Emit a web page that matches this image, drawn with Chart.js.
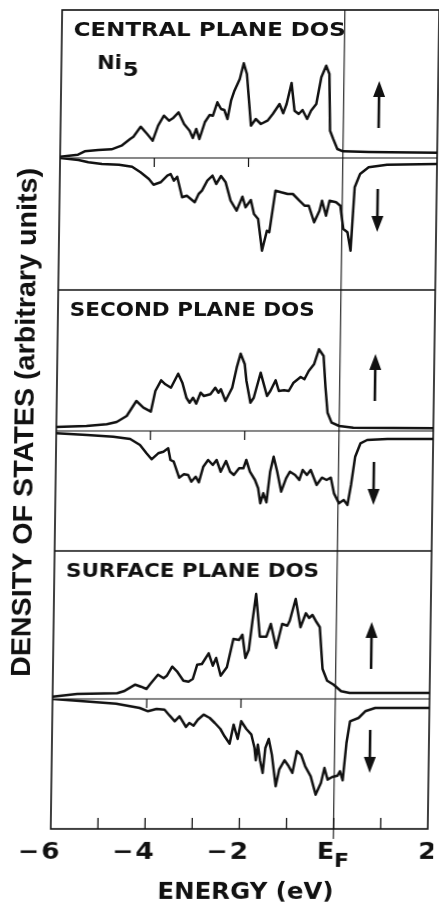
<!DOCTYPE html>
<html>
<head>
<meta charset="utf-8">
<script src="https://cdn.jsdelivr.net/npm/chart.js@4.4.1/dist/chart.umd.min.js"></script>
<style>
  html, body { margin: 0; padding: 0; background: #fff; overflow: hidden; }
  #wrap { width: 439px; height: 905px; }
  /* the scanned figure leans a little; follow it */
  canvas { display: block; transform: skewX(-0.8deg); }
</style>
</head>
<body>
<div id="wrap"><canvas id="dos" width="439" height="905"></canvas></div>
<script>
// Ni5 layer DOS, energy in eV from E_F, DOS in arbitrary units (down spin negative)
const centralUpE = [-6.0, -5.62, -5.48, -5.19, -4.91, -4.70, -4.52, -4.45, -4.30, -4.16, -4.04, -3.93, -3.81, -3.70, -3.62, -3.50, -3.38, -3.26, -3.19, -3.12, -3.05, -2.94, -2.84, -2.77, -2.68, -2.60, -2.53, -2.46, -2.39, -2.32, -2.21, -2.13, -2.06, -1.96, -1.86, -1.75, -1.61, -1.50, -1.36, -1.28, -1.21, -1.11, -1.04, -0.95, -0.87, -0.77, -0.69, -0.58, -0.48, -0.38, -0.31, -0.28, -0.21, -0.12, 0.0, 0.55, 1.0, 2.0];
const centralUpDos = [0.13, 0.33, 0.67, 0.80, 0.87, 1.23, 1.90, 2.13, 3.13, 2.40, 1.73, 3.23, 4.23, 3.73, 3.97, 4.57, 3.40, 2.73, 2.00, 2.90, 1.90, 3.57, 4.30, 4.23, 5.57, 4.90, 4.80, 3.90, 5.73, 6.73, 7.90, 9.47, 8.40, 3.23, 3.90, 3.40, 3.73, 4.40, 5.40, 4.47, 5.40, 7.50, 4.73, 4.40, 4.80, 3.90, 4.73, 5.40, 8.07, 9.23, 8.40, 2.73, 1.90, 0.90, 0.67, 0.60, 0.57, 0.53];

const centralDownE = [-6.0, -5.61, -5.40, -5.11, -4.75, -4.47, -4.29, -4.11, -4.01, -3.86, -3.72, -3.65, -3.58, -3.51, -3.40, -3.30, -3.13, -3.05, -2.98, -2.87, -2.76, -2.68, -2.58, -2.48, -2.37, -2.24, -2.12, -2.05, -1.94, -1.87, -1.78, -1.69, -1.59, -1.54, -1.42, -1.30, -1.16, -1.05, -0.91, -0.80, -0.71, -0.59, -0.48, -0.43, -0.34, -0.27, -0.13, -0.04, 0.03, 0.12, 0.19, 0.26, 0.37, 0.55, 0.94, 2.0];
const centralDownDos = [0, -0.20, -0.43, -0.60, -0.67, -0.87, -1.43, -2.10, -2.67, -2.43, -1.77, -1.60, -2.27, -1.87, -3.93, -3.77, -4.43, -3.60, -3.27, -2.27, -1.77, -2.60, -1.80, -2.43, -4.27, -5.27, -3.87, -4.93, -4.20, -5.60, -6.10, -9.27, -7.27, -7.43, -3.27, -3.43, -3.60, -3.60, -4.27, -4.77, -4.77, -6.43, -5.27, -4.27, -5.77, -4.27, -4.43, -4.77, -7.10, -7.43, -9.27, -2.93, -1.60, -0.93, -0.67, -0.60];

const secondUpE = [-6.0, -5.36, -4.93, -4.72, -4.51, -4.31, -4.16, -4.00, -3.91, -3.79, -3.70, -3.58, -3.43, -3.34, -3.25, -3.18, -3.11, -3.04, -2.95, -2.88, -2.74, -2.64, -2.57, -2.52, -2.42, -2.28, -2.19, -2.11, -2.02, -1.98, -1.89, -1.82, -1.68, -1.61, -1.54, -1.47, -1.36, -1.29, -1.18, -1.08, -0.98, -0.83, -0.75, -0.66, -0.55, -0.45, -0.35, -0.30, -0.25, -0.16, 0.0, 0.30, 2.0];
const secondUpDos = [0.40, 0.50, 0.67, 0.90, 1.50, 3.00, 2.33, 1.93, 4.00, 5.07, 4.67, 4.33, 5.73, 4.83, 3.33, 2.83, 3.33, 2.73, 3.83, 3.50, 3.67, 4.33, 3.83, 4.17, 3.00, 4.33, 6.33, 7.73, 6.67, 5.00, 2.83, 3.33, 5.83, 4.67, 3.50, 4.00, 5.07, 4.00, 4.07, 4.00, 4.83, 5.40, 5.17, 6.00, 6.67, 8.17, 7.50, 4.33, 1.83, 0.83, 0.50, 0.33, 0.27];

const secondDownE = [-6.0, -5.35, -4.79, -4.43, -4.22, -4.08, -3.97, -3.83, -3.72, -3.62, -3.57, -3.50, -3.38, -3.28, -3.19, -3.12, -3.03, -2.96, -2.87, -2.77, -2.67, -2.59, -2.50, -2.39, -2.30, -2.22, -2.11, -2.02, -1.96, -1.88, -1.77, -1.70, -1.65, -1.59, -1.52, -1.45, -1.38, -1.30, -1.21, -1.11, -1.03, -0.92, -0.83, -0.76, -0.67, -0.59, -0.46, -0.35, -0.25, -0.16, -0.09, 0.02, 0.12, 0.20, 0.27, 0.35, 0.46, 0.60, 1.03, 2.0];
const secondDownDos = [-0.23, -0.40, -0.57, -0.80, -1.40, -2.23, -2.83, -2.23, -2.07, -1.73, -2.90, -3.07, -4.67, -4.33, -4.40, -5.07, -4.57, -5.13, -3.57, -2.90, -3.40, -2.90, -4.07, -3.00, -4.07, -4.40, -3.73, -3.73, -2.90, -4.07, -4.90, -5.73, -7.23, -6.23, -7.13, -4.07, -2.57, -4.07, -6.07, -4.73, -4.07, -4.40, -4.90, -3.90, -4.40, -3.90, -5.40, -4.67, -4.90, -4.67, -6.23, -7.23, -6.90, -7.40, -5.40, -2.57, -1.23, -0.90, -0.80, -0.80];

const surfaceUpE = [-6.0, -5.48, -4.63, -4.49, -4.25, -4.13, -4.01, -3.93, -3.77, -3.65, -3.58, -3.47, -3.37, -3.23, -3.12, -3.03, -2.94, -2.84, -2.70, -2.61, -2.54, -2.44, -2.31, -2.18, -2.06, -1.99, -1.92, -1.85, -1.78, -1.71, -1.62, -1.48, -1.39, -1.27, -1.15, -1.04, -0.99, -0.87, -0.76, -0.65, -0.58, -0.51, -0.42, -0.35, -0.28, -0.18, -0.04, 0.12, 0.30, 2.0];
const surfaceUpDos = [0.23, 0.50, 0.57, 0.77, 1.43, 1.23, 1.00, 1.50, 2.43, 2.07, 2.33, 3.23, 2.77, 1.83, 1.73, 2.00, 3.43, 3.50, 4.57, 3.33, 4.10, 2.33, 3.17, 6.00, 5.90, 6.43, 4.10, 4.90, 7.83, 10.50, 6.23, 6.23, 7.50, 5.10, 7.50, 7.33, 7.83, 10.00, 7.17, 8.57, 8.10, 8.40, 7.67, 7.17, 3.00, 1.83, 1.43, 0.77, 0.60, 0.60];

const surfaceDownE = [-6.0, -5.35, -4.65, -4.15, -3.97, -3.79, -3.62, -3.51, -3.40, -3.30, -3.16, -3.09, -3.0, -2.91, -2.79, -2.66, -2.55, -2.43, -2.34, -2.23, -2.15, -2.06, -1.99, -1.88, -1.77, -1.70, -1.67, -1.63, -1.58, -1.52, -1.47, -1.40, -1.33, -1.24, -1.17, -1.06, -0.97, -0.89, -0.80, -0.71, -0.62, -0.50, -0.39, -0.28, -0.21, -0.14, -0.04, 0.07, 0.12, 0.18, 0.25, 0.32, 0.50, 0.64, 0.85, 2.0];
const surfaceDownDos = [0, -0.23, -0.47, -0.90, -1.23, -1.00, -1.07, -1.67, -2.23, -1.73, -2.80, -2.40, -2.67, -2.07, -1.57, -1.90, -2.40, -3.00, -3.73, -4.47, -2.57, -4.00, -2.23, -3.00, -3.57, -4.90, -6.13, -4.57, -6.13, -7.40, -4.90, -4.00, -5.57, -8.73, -7.07, -6.13, -6.73, -7.40, -5.23, -5.57, -6.73, -7.73, -9.57, -8.40, -6.90, -8.07, -7.80, -7.67, -7.23, -8.13, -4.40, -2.23, -1.90, -1.23, -0.90, -0.90];

const tickValues = [-6, -4, -2, 0, 2];
const tickLabels = ['\u22126', '\u22124', '\u22122', 'E_F', '2'];
const minorTicks = [-5, -4, -3, -2, -1, 0, 1];
const panelTitles = ['CENTRAL PLANE DOS', 'SECOND PLANE DOS', 'SURFACE PLANE DOS'];
const xTitle = 'ENERGY (eV)';
const yTitle = 'DENSITY OF STATES (arbitrary units)';

const ink = '#111';
const face = '"DejaVu Sans", "Liberation Sans", sans-serif';

const pts = (es, ds) => es.map((e, i) => ({x: e, y: ds[i]}));
const curve = (label, axis, es, ds) => ({
  label, yAxisID: axis, data: pts(es, ds),
  borderColor: ink, borderWidth: 2.5, pointRadius: 0, tension: 0,
  borderJoinStyle: 'round', borderCapStyle: 'round', fill: false
});

// one stacked axis per half panel, weighted by its value span
const yAxis = (min, max) => ({
  type: 'linear', position: 'left', stack: 'dos', stackWeight: max - min, min, max,
  ticks: {display: false}, grid: {display: false, drawTicks: false}, border: {display: false}
});

function drawText(ctx, text, x, y, o) {
  o = o || {};
  ctx.save();
  ctx.font = o.font;
  ctx.textBaseline = o.baseline || 'middle';
  const w = ctx.measureText(text).width;
  const s = o.width ? o.width / w : (o.stretch || 1);
  ctx.translate(x, y);
  if (o.rotate) ctx.rotate(o.rotate);
  ctx.scale(s, 1);
  ctx.textAlign = o.align || 'left';
  ctx.fillText(text, 0, 0);
  ctx.restore();
  return w * s;
}

function seg(ctx, x1, y1, x2, y2, lw) {
  ctx.lineWidth = lw;
  ctx.beginPath(); ctx.moveTo(x1, y1); ctx.lineTo(x2, y2); ctx.stroke();
}

function arrow(ctx, x, yFrom, yTo) {
  const dir = yTo < yFrom ? 1 : -1; // 1: pointing up
  seg(ctx, x, yFrom, x, yTo + dir * 12, 2.6);
  ctx.beginPath();
  ctx.moveTo(x, yTo);
  ctx.lineTo(x - 6, yTo + dir * 16);
  ctx.lineTo(x + 6, yTo + dir * 16);
  ctx.closePath();
  ctx.fill();
}

const frame = {
  id: 'frame',
  afterDraw(chart) {
    const {ctx, chartArea: a, scales} = chart;
    const x = scales.x;
    ctx.save();
    ctx.strokeStyle = ink;
    ctx.fillStyle = ink;

    // box, panel borders, spin baselines
    ctx.lineWidth = 1.6;
    ctx.strokeRect(a.left, a.top, a.right - a.left, a.bottom - a.top);
    ['ySu', 'yFu'].forEach(id => seg(ctx, a.left, scales[id].top, a.right, scales[id].top, 1.4));
    ['yCu', 'ySu', 'yFu'].forEach(id => {
      const y0 = scales[id].getPixelForValue(0);
      seg(ctx, a.left, y0, a.right, y0, 1.1);
      [-4, -2].forEach(v => seg(ctx, x.getPixelForValue(v), y0, x.getPixelForValue(v), y0 + 9, 1.2));
    });

    // Fermi level and inward ticks on the energy axis
    const ef = x.getPixelForValue(0);
    seg(ctx, ef, a.top, ef, a.bottom + 10, 1.1);
    minorTicks.forEach(v => {
      const px = x.getPixelForValue(v);
      seg(ctx, px, a.bottom, px, a.bottom - 11, 1.3);
    });

    // tick labels
    const lf = 'bold 23px ' + face;
    const ly = a.bottom + 24;
    tickValues.forEach((v, i) => {
      const px = x.getPixelForValue(v);
      const t = tickLabels[i];
      if (t.includes('_')) {
        const [main, sub] = t.split('_');
        drawText(ctx, main, px + 1, ly, {font: lf, align: 'right', stretch: 1.1});
        drawText(ctx, sub, px + 1, ly + 9, {font: 'bold 19px ' + face, stretch: 1.15});
      } else if (t.startsWith('\u2212')) {
        const digit = t.slice(1);
        ctx.font = lf;
        const dw = ctx.measureText(digit).width * 1.15;
        drawText(ctx, digit, px, ly, {font: lf, align: 'center', stretch: 1.15});
        drawText(ctx, '\u2212', px - dw / 2 - 2, ly, {font: lf, align: 'right', stretch: 1.1});
      } else {
        drawText(ctx, t, px, ly, {font: lf, align: 'center', stretch: 1.15});
      }
    });

    // axis titles
    drawText(ctx, xTitle, x.getPixelForValue(-1.85), a.bottom + 64, {font: 'bold 23px ' + face, align: 'center', width: 176});
    drawText(ctx, yTitle, 33, (a.top + a.bottom) / 2 + 3, {
      font: 'bold 28px "Liberation Sans", Arial, sans-serif', width: 509,
      align: 'center', baseline: 'alphabetic', rotate: -Math.PI / 2
    });

    // panel titles
    const tx = x.getPixelForValue(-5.75);
    const titleWidths = [272, 245, 253];
    ['yCu', 'ySu', 'yFu'].forEach((id, i) => {
      drawText(ctx, panelTitles[i], tx, scales[id].top + 21, {font: 'bold 20px ' + face, width: titleWidths[i]});
    });
    const nx = x.getPixelForValue(-5.24);
    const nw = drawText(ctx, 'Ni', nx, scales.yCu.top + 54, {font: 'bold 19px ' + face, stretch: 1.1});
    drawText(ctx, '5', nx + nw + 1, scales.yCu.top + 61, {font: 'bold 19px ' + face, stretch: 1.2});

    // spin arrows
    const ax = x.getPixelForValue(0.75);
    [['yCu', 'yCd'], ['ySu', 'ySd'], ['yFu', 'yFd']].forEach(([up, dn]) => {
      arrow(ctx, ax, scales[up].getPixelForValue(3.0), scales[up].getPixelForValue(7.7));
      arrow(ctx, ax, scales[dn].getPixelForValue(-3.1), scales[dn].getPixelForValue(-7.4));
    });
    ctx.restore();
  }
};

new Chart(document.getElementById('dos'), {
  type: 'line',
  data: {
    datasets: [
      curve('central up', 'yCu', centralUpE, centralUpDos),
      curve('central down', 'yCd', centralDownE, centralDownDos),
      curve('second up', 'ySu', secondUpE, secondUpDos),
      curve('second down', 'ySd', secondDownE, secondDownDos),
      curve('surface up', 'yFu', surfaceUpE, surfaceUpDos),
      curve('surface down', 'yFd', surfaceDownE, surfaceDownDos)
    ]
  },
  options: {
    responsive: false,
    devicePixelRatio: 1,
    animation: false,
    layout: {padding: {left: 56, right: 6, top: 10, bottom: 76}},
    plugins: {legend: {display: false}, tooltip: {enabled: false}},
    scales: {
      x: {type: 'linear', min: -6, max: 2, display: false},
      // listed bottom to top: the last stacked axis is placed highest
      yFd: yAxis(-13.0, 0),
      yFu: yAxis(0, 14.8),
      ySd: yAxis(-12.0, 0),
      ySu: yAxis(0, 14.1),
      yCd: yAxis(-13.2, 0),
      yCu: yAxis(0, 14.8)
    }
  },
  plugins: [frame]
});
</script>
</body>
</html>
